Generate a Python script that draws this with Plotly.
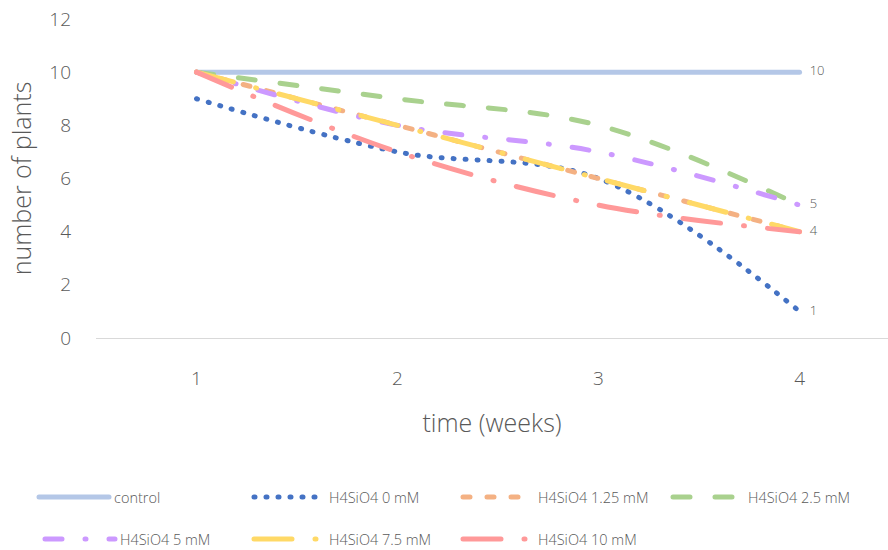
import plotly.graph_objects as go

weeks = [1, 2, 3, 4]
series_names = ["control", "H4SiO4 0 mM", "H4SiO4 1.25 mM", "H4SiO4 2.5 mM",
                "H4SiO4 5 mM", "H4SiO4 7.5 mM", "H4SiO4 10 mM"]
control = [10, 10, 10, 10]
h0 = [9, 7, 6, 1]
h125 = [10, 8, 6, 4]
h25 = [10, 9, 8, 5]
h5 = [10, 8, 7, 5]
h75 = [10, 8, 6, 4]
h10 = [10, 7, 5, 4]
NB = "\u00a0\u00a0\u00a0"
end_labels = [["", "", "", NB + "10"], ["", "", "", NB + "1"], ["", "", "", ""], ["", "", "", ""],
              ["", "", "", NB + "5"], ["", "", "", NB + "4"], ["", "", "", ""]]

values = [control, h0, h125, h25, h5, h75, h10]
colors = ["#B4C7E7", "#4472C4", "#F4B183", "#A9D18E", "#CC99FF", "#FFD966", "#FF9999"]
dashes = ["solid", "1px,11px", "7px,17px", "17px,25px", "17px,23px,1px,23px",
          "38px,23px,1px,23px", "38px,23px,1px,23px"]
widths = [5, 5, 5, 5, 5, 5, 5]
# legend entry placement (pixels): left x and top y of each entry
legend_x_px = [34, 249, 458, 668, 40, 249, 458]
legend_y_px = [481, 481, 481, 481, 523, 523, 523]

FONT = "Open Sans"
GRAY = "#595959"

fig = go.Figure()
legend_layout = {}
for i, (name, vals, col, dsh, w, lab) in enumerate(zip(series_names, values, colors, dashes,
                                                      widths, end_labels)):
    lid = "legend" if i == 0 else f"legend{i + 1}"
    fig.add_trace(go.Scatter(
        x=weeks, y=vals, name=name, mode="lines+text",
        line=dict(color=col, width=w, dash=dsh, shape="spline", smoothing=1),
        text=lab, textposition="middle right",
        textfont=dict(family=FONT, size=13, color=GRAY, weight=300),
        legend=lid,
    ))
    legend_layout[lid] = dict(
        orientation="h", xref="container", yref="container",
        x=legend_x_px[i] / 888, y=1 - legend_y_px[i] / 550,
        xanchor="left", yanchor="top", itemwidth=70,
        font=dict(family=FONT, size=14.5, color=GRAY, weight=300),
        bgcolor="rgba(0,0,0,0)")

fig.update_layout(
    width=888, height=550,
    margin=dict(l=95.5, r=0, t=19, b=212),
    paper_bgcolor="white", plot_bgcolor="white",
    font=dict(family=FONT, color=GRAY, weight=300),
    showlegend=True,
    xaxis=dict(range=[0.5, 4.44], tickvals=weeks, ticktext=[str(v) for v in weeks],
               showgrid=False, zeroline=False, showline=True, linecolor="#D9D9D9",
               linewidth=1, ticks="", ticklabelstandoff=23,
               tickfont=dict(family=FONT, size=19, color=GRAY, weight=300),
               title=dict(text="time (weeks)", standoff=24,
                          font=dict(family=FONT, size=25, color=GRAY, weight=300))),
    yaxis=dict(range=[0, 12], dtick=2, showgrid=False, zeroline=False, showline=False,
               ticks="", ticklabelstandoff=24,
               tickfont=dict(family=FONT, size=19, color=GRAY, weight=300),
               title=dict(text="number of plants", standoff=10,
                          font=dict(family=FONT, size=25, color=GRAY, weight=300))),
    **legend_layout,
)

post = ("var s=document.createElement('style');"
        "s.textContent='.js-line{stroke-linecap:round !important;}';"
        "document.head.appendChild(s);")
fig.write_html("out.html", post_script=post)
